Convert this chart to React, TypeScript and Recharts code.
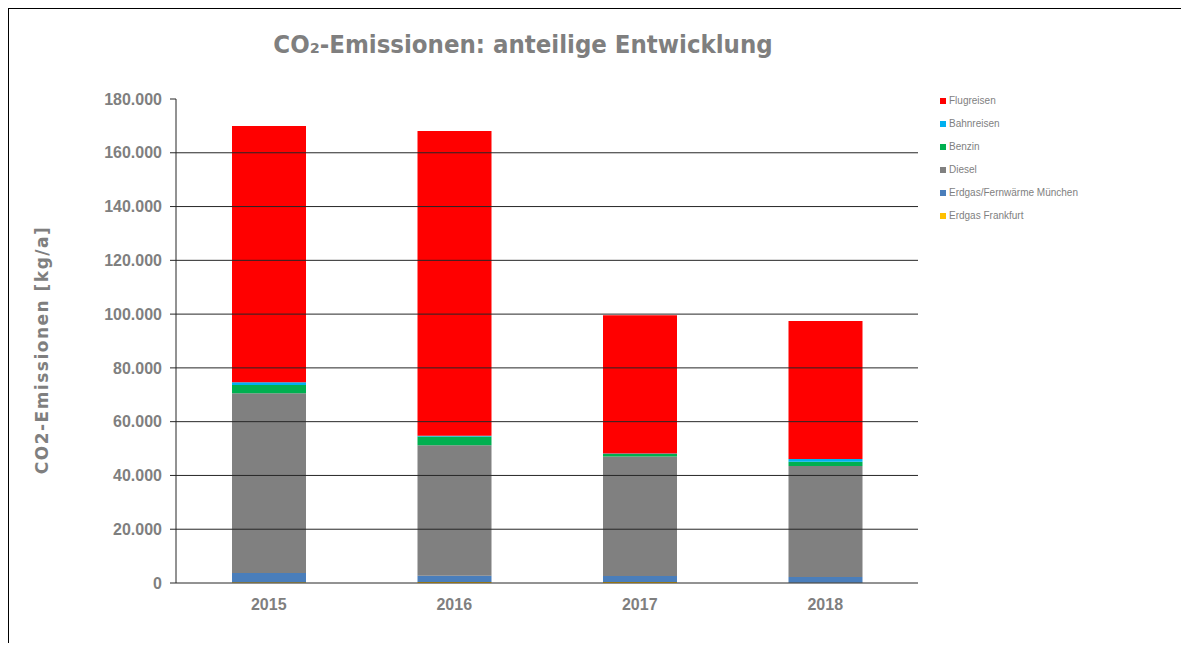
import {
  BarChart,
  Bar,
  XAxis,
  YAxis,
  ReferenceLine
} from "recharts";

// values in kg/a
const years = ["2015", "2016", "2017", "2018"];
const erdgasFrankfurt = [300, 400, 400, 100];
const erdgasMuenchen = [3400, 2300, 2200, 2100];
const diesel = [66900, 48500, 44400, 41300];
const benzin = [3000, 3300, 1000, 1600];
const bahnreisen = [1100, 300, 200, 1000];
const flugreisen = [95300, 113300, 51400, 51300];

const yTicks = [0, 20000, 40000, 60000, 80000, 100000, 120000, 140000, 160000, 180000];
const separatorTicks = [0, 1, 2, 3, 4];

const series = [
  { key: "frankfurt", name: "Erdgas Frankfurt", color: "#ffc000", values: erdgasFrankfurt },
  { key: "muenchen", name: "Erdgas/Fernwärme München", color: "#4a7ebb", values: erdgasMuenchen },
  { key: "diesel", name: "Diesel", color: "#808080", values: diesel },
  { key: "benzin", name: "Benzin", color: "#00b050", values: benzin },
  { key: "bahn", name: "Bahnreisen", color: "#00b0f0", values: bahnreisen },
  { key: "flug", name: "Flugreisen", color: "#ff0000", values: flugreisen }
];

const data = years.map((year, i) => {
  const row: any = { year };
  series.forEach((s) => {
    row[s.key] = s.values[i];
  });
  return row;
});

const GRAY = "#7f7f7f";
const LINE = "#262626";

const fmt = (v: number) => String(v).replace(/\B(?=(\d{3})+(?!\d))/g, ".");

function LegendBox() {
  return (
    <div
      style={{
        position: "absolute",
        left: 931,
        top: 80,
        fontFamily: "'Liberation Sans', Arial, sans-serif",
        fontSize: 10,
        color: GRAY
      }}
    >
      {[...series].reverse().map((s) => (
        <div key={s.key} style={{ height: 23, display: "flex", alignItems: "center" }}>
          <span
            style={{
              width: 6,
              height: 6,
              background: s.color,
              display: "inline-block",
              marginRight: 3
            }}
          />
          {s.name}
        </div>
      ))}
    </div>
  );
}

export default function App() {
  return (
    <div
      style={{
        position: "relative",
        width: 1179,
        height: 634,
        borderTop: "1px solid #000",
        borderLeft: "1px solid #000",
        overflow: "hidden"
      }}
    >
      <div
        style={{
          position: "absolute",
          left: 0,
          top: 20,
          width: 1028,
          textAlign: "center",
          fontFamily: "'DejaVu Sans Condensed', 'DejaVu Sans', sans-serif",
          fontWeight: "bold",
          fontSize: 25.5,
          color: GRAY
        }}
      >
        CO₂-Emissionen: anteilige Entwicklung
      </div>

      <BarChart
        width={1179}
        height={625}
        data={data}
        margin={{ top: 90, right: 270, left: 87, bottom: 21 }}
      >
        <XAxis
          xAxisId="sep"
          type="number"
          domain={[0, 4]}
          ticks={separatorTicks}
          height={0}
          axisLine={false}
          tickSize={6}
          tickLine={{ stroke: LINE }}
          tick={() => <g />}
        />
        <XAxis
          dataKey="year"
          height={30}
          tickLine={false}
          axisLine={{ stroke: LINE }}
          tick={{ fill: GRAY, fontSize: 16, fontWeight: "bold", fontFamily: "'Liberation Sans', Arial, sans-serif" }}
          tickMargin={10}
        />
        <YAxis
          width={80}
          domain={[0, 180000]}
          ticks={yTicks}
          interval={0}
          tickFormatter={fmt}
          axisLine={{ stroke: LINE }}
          tickLine={{ stroke: LINE }}
          tickSize={6}
          tickMargin={8}
          tick={{ fill: GRAY, fontSize: 16, fontWeight: "bold", fontFamily: "'Liberation Sans', Arial, sans-serif" }}
          label={{
            value: "CO2-Emissionen [kg/a]",
            angle: -90,
            position: "center",
            dx: -94,
            dy: 9,
            style: {
              fill: GRAY,
              fontSize: 17,
              letterSpacing: 1.5,
              fontWeight: "bold",
              fontFamily: "'DejaVu Sans', sans-serif"
            }
          }}
        />
        {yTicks
          .filter((v) => v > 0 && v < 180000)
          .map((v) => (
            <ReferenceLine key={v} y={v} stroke={LINE} strokeWidth={1} ifOverflow="visible" />
          ))}
        {series.map((s) => (
          <Bar
            key={s.key}
            dataKey={s.key}
            name={s.name}
            stackId="a"
            fill={s.color}
            barSize={74}
            isAnimationActive={false}
          />
        ))}
      </BarChart>
      <LegendBox />
    </div>
  );
}
